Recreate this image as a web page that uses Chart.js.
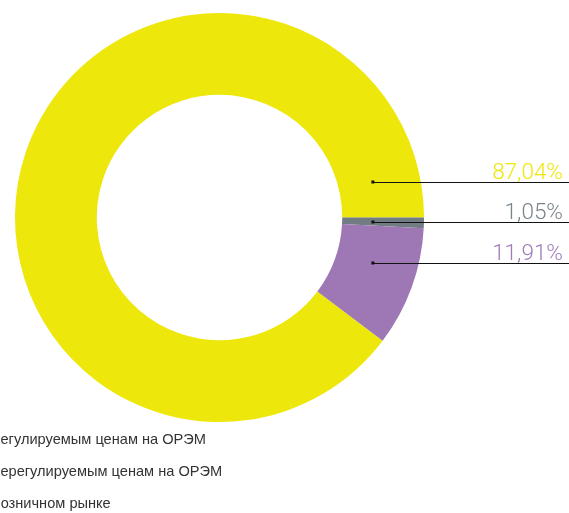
<!DOCTYPE html>
<html>
<head>
<meta charset="utf-8">
<script src="https://cdn.jsdelivr.net/npm/chart.js@4"></script>
<style>
  html, body { margin: 0; padding: 0; background: #fff; }
  #wrap { position: relative; width: 569px; height: 513px; overflow: hidden; }
</style>
</head>
<body>
<div id="wrap"><canvas id="myChart" width="569" height="513"></canvas></div>
<script>
// данные
const categories = [
  'Покупка по регулируемым ценам на ОРЭМ',
  'Покупка по нерегулируемым ценам на ОРЭМ',
  'Покупка на розничном рынке'
];
// доли секторов, как они нарисованы
const shares = [89.7, 0.83, 9.47];
const percentLabels = ['87,04%', '1,05%', '11,91%'];
const colors = ['#ede70b', '#717d82', '#9e78b4'];
const textColors = ['#ede70b', '#78848a', '#a07cb8'];

// серый сектор начинается ровно на 3 часа
const total = shares.reduce((a, b) => a + b, 0);
const rotation = 90 - shares[0] / total * 360;

const leaders = {
  id: 'leaders',
  afterDraw(chart) {
    const c = chart.ctx;
    const arc = chart.getDatasetMeta(0).data[0];
    const cx = arc.x, cy = arc.y, r = arc.outerRadius;
    const x0 = cx + r * 0.75;
    c.save();
    percentLabels.forEach((lbl, i) => {
      const y = Math.round(cy - 36 + i * 40.5) + 0.5;
      c.strokeStyle = '#111';
      c.lineWidth = 1.2;
      c.beginPath();
      c.moveTo(x0, y);
      c.lineTo(chart.width, y);
      c.stroke();
      c.fillStyle = '#111';
      c.fillRect(x0 - 1.5, y - 2, 3, 3);
      c.font = '300 22.5px Roboto';
      c.textAlign = 'right';
      c.textBaseline = 'alphabetic';
      c.fillStyle = textColors[i];
      c.fillText(lbl, chart.width - 6, y - 4);
    });

    // легенда, обрезанная слева
    c.font = '14.6px "Liberation Sans", Arial, sans-serif';
    c.textAlign = 'left';
    c.fillStyle = '#333';
    const shift = c.measureText('Покупка по р').width;
    categories.forEach((cat, i) => {
      c.fillText(cat, -shift + 0.5, cy + r + 21.5 + i * 32);
    });
    c.restore();
  }
};

const ctx = document.getElementById('myChart');
new Chart(ctx, {
  type: 'doughnut',
  data: {
    labels: categories,
    datasets: [{
      data: shares,
      backgroundColor: colors,
      borderWidth: 0
    }]
  },
  options: {
    responsive: false,
    animation: false,
    cutout: '60%',
    rotation: rotation,
    layout: { padding: { left: 15, top: 13, right: 145, bottom: 91 } },
    plugins: {
      legend: { display: false },
      tooltip: { enabled: false }
    }
  },
  plugins: [leaders]
});
</script>
</body>
</html>
